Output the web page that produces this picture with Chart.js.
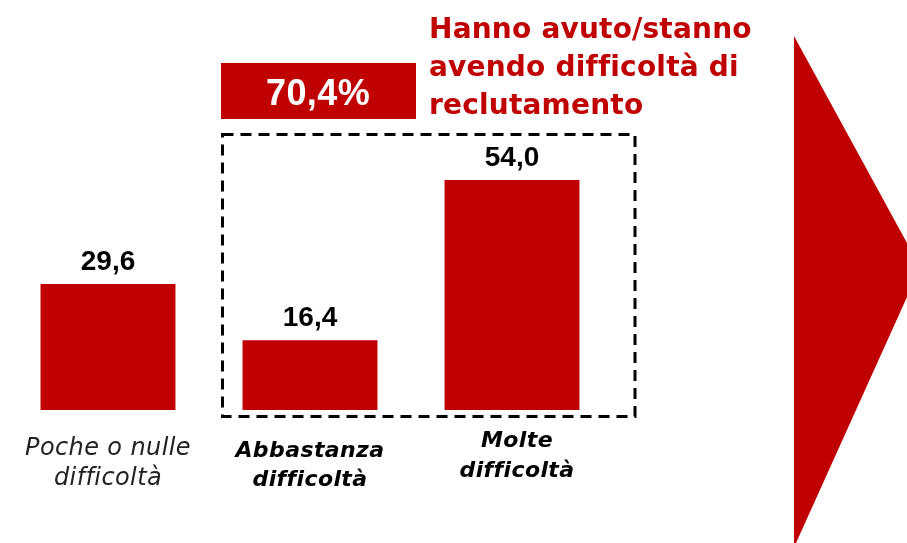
<!DOCTYPE html>
<html lang="it">
<head>
<meta charset="utf-8">
<title>Difficoltà di reclutamento</title>
<script src="https://cdn.jsdelivr.net/npm/chart.js@4/dist/chart.umd.min.js"></script>
<style>
  html, body { margin: 0; padding: 0; background: #fff; }
  #grafico { display: block; }
</style>
</head>
<body>
<canvas id="grafico" width="907" height="543"></canvas>
<script>
// dati
const categorie = [
    ["Poche o nulle", "difficoltà"],
    ["Abbastanza", "difficoltà"],
    ["Molte", "difficoltà"]
];
const valori = [29.6, 16.4, 54.0];
const titolo = ["Hanno avuto/stanno", "avendo difficoltà di", "reclutamento"];

const ROSSO = "#C00000";

function formatta(v, dec) {
    return v.toFixed(dec).replace(".", ",");
}

// somma delle due categorie "con difficoltà"
const totaleDifficolta = valori[1] + valori[2];

const pluginEtichette = {
    id: "etichette",
    afterDatasetsDraw(chart) {
        const ctx = chart.ctx;
        const meta = chart.getDatasetMeta(0);
        const x = chart.scales.x;

        ctx.save();
        // valori sopra le barre
        ctx.fillStyle = "#000";
        ctx.textAlign = "center";
        ctx.textBaseline = "alphabetic";
        ctx.font = "bold 28px 'Liberation Sans', Arial, sans-serif";
        meta.data.forEach((bar, i) => {
            ctx.fillText(formatta(valori[i], 1), bar.x, bar.y - 14);
        });

        // un po' di spaziatura: niente legature "ffi"
        ctx.letterSpacing = "0.4px";

        // etichette delle categorie
        const stili = [
            { font: "italic 24px 'DejaVu Sans', sans-serif", colore: "#222", base: 455, dx: 0, passo: 30 },
            { font: "italic bold 22px 'DejaVu Sans', sans-serif", colore: "#000", base: 457, dx: 0, passo: 29 },
            { font: "italic bold 22px 'DejaVu Sans', sans-serif", colore: "#000", base: 447, dx: 5, passo: 30 }
        ];
        categorie.forEach((righe, i) => {
            const s = stili[i];
            ctx.font = s.font;
            ctx.fillStyle = s.colore;
            righe.forEach((r, j) => {
                ctx.fillText(r, x.getPixelForValue(i) + s.dx, s.base + j * s.passo);
            });
        });

        // riquadro tratteggiato attorno alle barre con difficoltà
        const sx = x.getPixelForValue(1) - 87.5;
        const dx = x.getPixelForValue(2) + 123;
        ctx.strokeStyle = "#000";
        ctx.lineWidth = 3;
        ctx.setLineDash([11, 7]);
        ctx.strokeRect(sx, 134.5, dx - sx, 282);
        ctx.setLineDash([]);

        // box con il totale
        ctx.fillStyle = ROSSO;
        ctx.fillRect(221, 63, 195, 56);
        ctx.fillStyle = "#fff";
        ctx.font = "bold 36px 'Liberation Sans', Arial, sans-serif";
        ctx.fillText(formatta(totaleDifficolta, 1) + "%", 318, 105);

        // titolo
        ctx.fillStyle = ROSSO;
        ctx.textAlign = "left";
        ctx.font = "bold 28px 'DejaVu Sans', sans-serif";
        ctx.letterSpacing = "0.2px";
        titolo.forEach((r, j) => {
            ctx.fillText(r, 429, 38 + j * 38);
        });
        ctx.letterSpacing = "0px";

        // freccia a destra
        ctx.beginPath();
        ctx.moveTo(794, 36);
        ctx.lineTo(907, 243);
        ctx.lineTo(907, 297);
        ctx.lineTo(796, 543);
        ctx.lineTo(794, 543);
        ctx.closePath();
        ctx.fill();
        ctx.restore();
    }
};

new Chart(document.getElementById("grafico"), {
    type: "bar",
    data: {
        labels: categorie.map(c => c.join(" ")),
        datasets: [{
            data: valori,
            backgroundColor: ROSSO,
            borderWidth: 0,
            barPercentage: 0.668,
            categoryPercentage: 1
        }]
    },
    options: {
        responsive: false,
        animation: false,
        layout: { padding: { left: 7, right: 294, top: 0, bottom: 133 } },
        plugins: { legend: { display: false }, tooltip: { enabled: false } },
        scales: {
            x: { display: false },
            y: { display: false, min: 0, max: 96.26 }
        }
    },
    plugins: [pluginEtichette]
});
</script>
</body>
</html>
